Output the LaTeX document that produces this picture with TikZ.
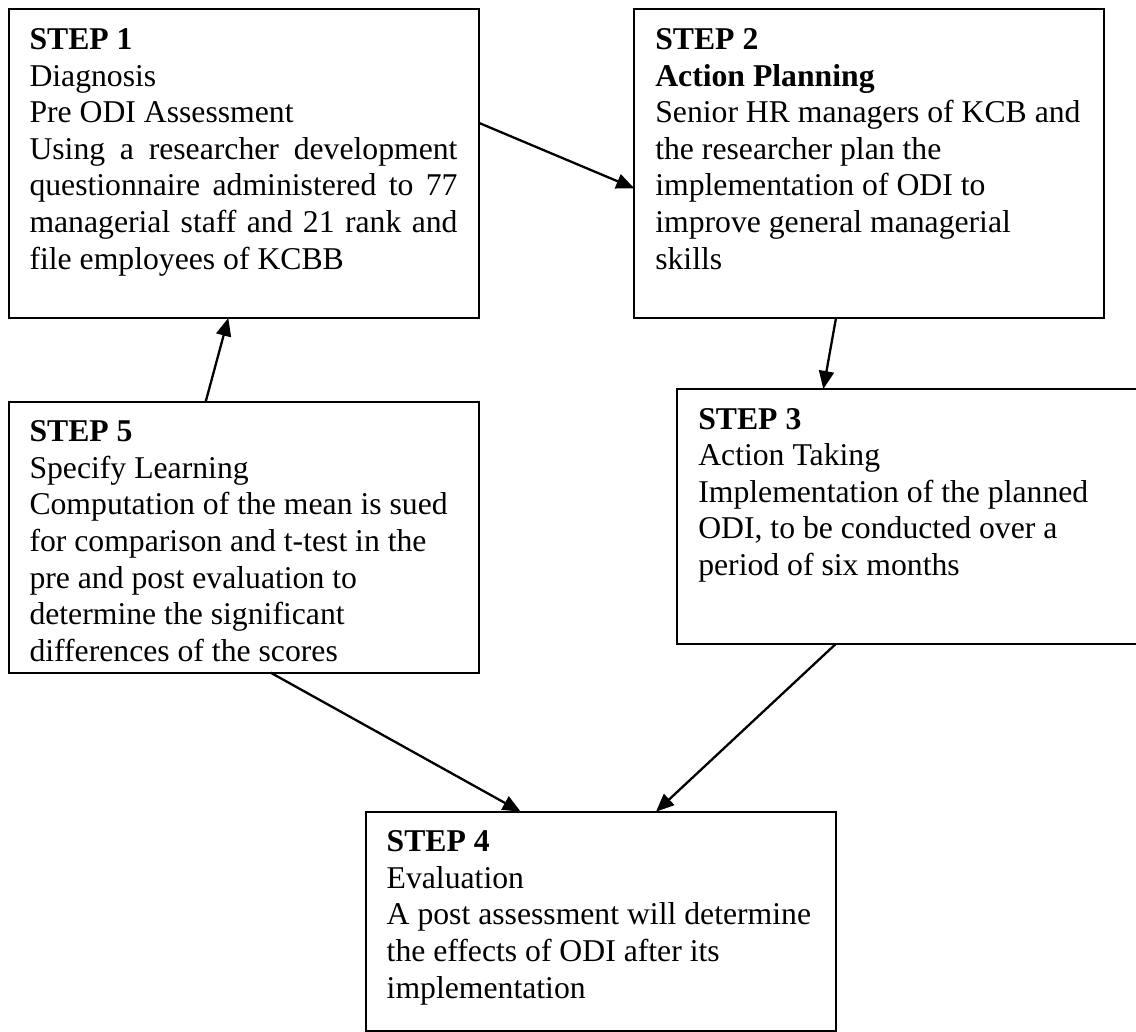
\documentclass[tikz,border=0pt]{standalone}
\usepackage{fontspec}
\setmainfont{Liberation Serif}
\usetikzlibrary{arrows.meta}
\tikzset{
  stepbox/.style={draw, line width=2pt, inner xsep=21pt, inner ysep=14.4pt,
    outer sep=0pt, anchor=north west, font=\fontsize{31.7}{36.6}\selectfont},
  flow/.style={-{Triangle[length=18pt,width=15pt]}, line width=2.3pt}
}
\newcommand{\boxtext}[2]{\parbox[t][#1][t]{428pt}{\strut #2}}
\newcommand{\jline}[1]{\makebox[\linewidth][s]{#1}}
\begin{document}
\begin{tikzpicture}[x=1pt,y=-1pt]
\useasboundingbox (0,0) rectangle (1136,1032);
\clip (0,0) rectangle (1136,1032);

\node[stepbox] (s1) at (8.5,9.5) {\boxtext{279.7pt}{%
\textbf{STEP 1}\\
Diagnosis\\
Pre ODI Assessment\\
\jline{Using a researcher development}\\
\jline{questionnaire administered to 77}\\
\jline{managerial staff and 21 rank and}\\
file employees of KCBB}};

\node[stepbox] (s2) at (634.3,9.5) {\boxtext{279.7pt}{%
\textbf{STEP 2}\\
\textbf{Action Planning}\\
Senior HR managers of KCB and\\
the researcher plan the\\
implementation of ODI to\\
improve general managerial\\
skills}};

\node[stepbox] (s3) at (677.3,389) {\boxtext{226.2pt}{%
\textbf{STEP 3}\\
Action Taking\\
Implementation of the planned\\
ODI, to be conducted over a\\
period of six months}};

\node[stepbox] (s5) at (8.5,401.7) {\boxtext{242.2pt}{%
\textbf{STEP 5}\\
Specify Learning\\
Computation of the mean is sued\\
for comparison and t-test in the\\
pre and post evaluation to\\
determine the significant\\
differences of the scores}};

\node[stepbox] (s4) at (365.7,811.7) {\boxtext{190.2pt}{%
\textbf{STEP 4}\\
Evaluation\\
A post assessment will determine\\
the effects of ODI after its\\
implementation}};

\draw[flow] ([yshift=-113.2pt]s1.north east) -- ([yshift=-178.8pt]s2.north west);
\draw[flow] ([xshift=201.7pt]s2.south west) -- ([xshift=146pt]s3.north west);
\draw[flow] ([xshift=158.4pt]s3.south west) -- ([xshift=290.3pt]s4.north west);
\draw[flow] ([xshift=262.2pt]s5.south west) -- ([xshift=155pt]s4.north west);
\draw[flow] ([xshift=197.2pt]s5.north west) -- ([xshift=219.8pt]s1.south west);
\end{tikzpicture}
\end{document}
